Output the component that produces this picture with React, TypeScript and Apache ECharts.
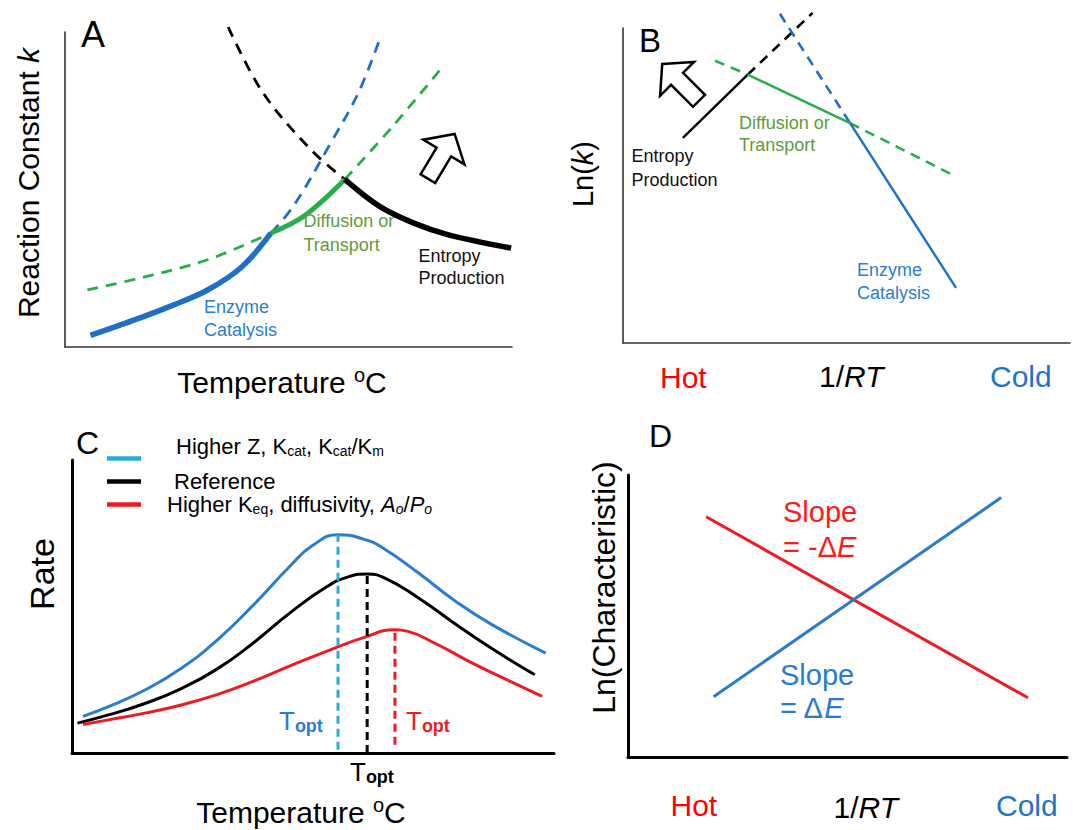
import React, { useEffect, useRef } from "react";
import * as echarts from "echarts";

const FONT = "'Liberation Sans', Arial, Helvetica, sans-serif";

// ---------- Panel A : reaction constant k vs temperature (0-100 schematic units) ----------
const aEnzymeCatalysis = [[5.7, 3.7], [16.5, 9.1], [24.2, 13.3], [31.9, 18.1], [39.6, 25.5], [46.1, 36.2]];
const aEnzymeCatalysisExt = [[46.1, 36.2], [51.1, 44.7], [59.5, 64.9], [65.7, 80.9], [70.3, 97.3]];
const aDiffusionLowExt = [[5.0, 18.1], [16.5, 21.8], [31.9, 27.7], [46.1, 36.2]];
const aDiffusion = [[46.1, 36.2], [53.4, 41.5], [62.6, 53.2]];
const aDiffusionHighExt = [[62.6, 53.2], [73.4, 70.2], [84.1, 88.3]];
const aEntropyExt = [[36.5, 101.6], [44.2, 80.9], [54.9, 62.8], [62.6, 53.2]];
const aEntropy = [[62.6, 53.2], [70.3, 44.7], [77.9, 39.4], [85.6, 35.7], [99.8, 31.4]];

// ---------- Panel B : Ln(k) vs 1/RT ----------
const bEntropy = [[13.4, 65.1], [27.9, 85.2]];
const bEntropyExt = [[27.9, 85.2], [42.4, 104.8]];
const bDiffusionHotExt = [[20.6, 89.6], [27.9, 85.2]];
const bDiffusion = [[27.9, 85.2], [50.8, 69.8]];
const bDiffusionColdExt = [[50.8, 69.8], [73.7, 53.4]];
const bEnzymeExt = [[35.1, 104.5], [50.8, 69.8]];
const bEnzyme = [[50.8, 69.8], [74.5, 17.5]];

// ---------- Panel C : rate vs temperature ----------
const cHigherZ = [[2.27, 12.5], [7.56, 15.8], [15.12, 21.5], [22.68, 28.9], [30.24, 38.7], [37.8, 50.8], [45.36, 64.0], [49.9, 70.8], [55.19, 74.5], [60.48, 73.0], [64.26, 70.2], [71.82, 61.5], [79.38, 52.0], [86.94, 44.0], [98.28, 34.1]];
const cReference = [[1.13, 10.2], [7.56, 13.0], [15.12, 16.9], [22.68, 22.0], [30.24, 28.8], [37.8, 37.8], [45.36, 48.0], [52.92, 56.8], [57.46, 60.2], [61.24, 61.1], [65.02, 59.6], [71.82, 53.0], [79.38, 44.2], [86.94, 35.8], [96.01, 26.7]];
const cHigherKeq = [[2.27, 9.7], [7.56, 11.3], [15.12, 13.6], [22.68, 16.4], [30.24, 20.0], [37.8, 24.6], [45.36, 29.8], [52.92, 34.8], [60.48, 39.4], [67.0, 42.1], [69.5, 41.6], [75.6, 37.2], [83.16, 30.6], [90.72, 24.6], [97.52, 19.3]];
const cToptHigherZ = [[55.19, 1.1], [55.19, 74.5]];
const cToptReference = [[61.24, 0], [61.24, 61.1]];
const cToptHigherKeq = [[67.0, 2.8], [67.0, 42.1]];
const cLegendLabels = ["Higher Z, K{s|cat}, K{s|cat}/K{s|m}", "Reference", "Higher K{s|eq}, diffusivity, {i|A}{is|o}/{i|P}{is|o}"];

// ---------- Panel D : Ln(characteristic) vs 1/RT ----------
const dSlopeNegative = [[17.8, 85.2], [91.1, 21.0]];
const dSlopePositive = [[19.5, 21.4], [85.0, 92.0]];

const BLUE = "#1f6fc5";
const GREEN = "#27ae4a";
const RED = "#ed1c24";
const LIGHTBLUE = "#29abe2";
const TXT_BLUE = "#2a7dd0";
const TXT_GREEN = "#5e9a3a";

function ser(data: number[][], idx: number, color: string, width: number, dashed: boolean, smooth: number | boolean = 0.35, dash: number[] = [11, 8]) {
  return {
    type: "line",
    data,
    xAxisIndex: idx,
    yAxisIndex: idx,
    symbol: "none",
    showSymbol: false,
    smooth,
    clip: false,
    silent: true,
    lineStyle: { color, width, type: dashed ? dash : "solid", cap: "butt" },
  };
}

function axis(idx: number, color: string, width: number) {
  return {
    gridIndex: idx,
    type: "value",
    min: 0,
    max: 100,
    axisLine: { show: true, onZero: false, lineStyle: { color, width } },
    axisTick: { show: false },
    axisLabel: { show: false },
    splitLine: { show: false },
  };
}

function txt(x: number, y: number, text: string, fontSize: number, fill: string, extra: any = {}, rich: any = undefined, rotation = 0) {
  const style: any = {
    text,
    fontSize,
    fontFamily: FONT,
    fill,
    align: extra.align || "left",
    textAlign: extra.align || "left",
    verticalAlign: "middle",
    textVerticalAlign: "middle",
    lineHeight: extra.lineHeight,
  };
  if (extra.fontWeight) style.fontWeight = extra.fontWeight;
  if (rich) style.rich = rich;
  return { type: "text", x, y, rotation, silent: true, z: 10, style };
}

function r(fontSize: number, fill: string, extra: any = {}) {
  return { fontSize, fontFamily: FONT, fill, ...extra };
}

const ARROW = [[0, -26], [24, -5], [8.5, -5], [8.5, 26], [-8.5, 26], [-8.5, -5], [-24, -5]];

export default function App() {
  const ref = useRef<HTMLDivElement>(null);
  useEffect(() => {
    document.body.style.margin = "0";
    const chart = echarts.init(ref.current as HTMLDivElement, null, { renderer: "svg" });

    const legendRichSub = {
      s: r(14, "#000", { lineHeight: 8, verticalAlign: "bottom" }),
      i: r(22, "#000", { fontStyle: "italic", lineHeight: 24 }),
      is: r(14, "#000", { fontStyle: "italic", lineHeight: 8, verticalAlign: "bottom" }),
    };
    const toptRich = (c: string) => ({
      s: r(18, c, { fontWeight: "bold", lineHeight: 10, verticalAlign: "bottom" }),
    });
    const supRich = { o: r(20, "#000", { lineHeight: 23, verticalAlign: "top" }) };
    const italicRich = (size: number, c: string, lh?: number) => ({ i: r(size, c, { fontStyle: "italic", lineHeight: lh }) });

    const option: any = {
      animation: false,
      backgroundColor: "#ffffff",
      grid: [
        { left: 65, top: 32, width: 447, height: 315 },
        { left: 623, top: 28, width: 447, height: 315 },
        { left: 72, top: 460, width: 482, height: 293 },
        { left: 628, top: 475, width: 439, height: 282 },
      ],
      xAxis: [axis(0, "#333", 1.6), axis(1, "#333", 1.6), axis(2, "#000", 3), axis(3, "#000", 3)],
      yAxis: [axis(0, "#333", 1.6), axis(1, "#333", 1.6), axis(2, "#000", 3), axis(3, "#000", 3)],
      series: [
        // A
        ser(aDiffusionLowExt, 0, GREEN, 2.8, true),
        ser(aDiffusionHighExt, 0, GREEN, 2.8, true),
        ser(aEnzymeCatalysisExt, 0, BLUE, 2.8, true),
        ser(aEntropyExt, 0, "#000", 2.8, true),
        ser(aEnzymeCatalysis, 0, BLUE, 5.5, false),
        ser(aDiffusion, 0, GREEN, 5, false),
        ser(aEntropy, 0, "#000", 5.5, false),
        // B
        ser(bEntropyExt, 1, "#000", 2.6, true, false, [10, 7]),
        ser(bDiffusionHotExt, 1, GREEN, 2.6, true, false, [10, 7]),
        ser(bDiffusionColdExt, 1, GREEN, 2.6, true, false, [10, 7]),
        ser(bEnzymeExt, 1, BLUE, 2.6, true, false, [10, 7]),
        ser(bEntropy, 1, "#000", 2.4, false, false),
        ser(bDiffusion, 1, GREEN, 2.4, false, false),
        ser(bEnzyme, 1, BLUE, 2.4, false, false),
        // C
        ser(cHigherZ, 2, "#2b7bd0", 3, false, 0.5),
        ser(cReference, 2, "#000", 3, false, 0.5),
        ser(cHigherKeq, 2, RED, 3, false, 0.5),
        ser(cToptHigherZ, 2, LIGHTBLUE, 3, true, false, [8, 5]),
        ser(cToptReference, 2, "#000", 3, true, false, [8, 5]),
        ser(cToptHigherKeq, 2, RED, 3, true, false, [8, 5]),
        // D
        ser(dSlopeNegative, 3, RED, 3, false, false),
        ser(dSlopePositive, 3, "#2a7bc9", 3, false, false),
      ],
      graphic: [
        // Panel letters
        txt(81, 34, "A", 36, "#000"),
        txt(639, 40, "B", 33, "#000"),
        txt(76, 443, "C", 32, "#000"),
        txt(649, 436, "D", 32, "#000"),
        // Panel A texts
        txt(28, 183, "Reaction Constant {i|k}", 30, "#000", { align: "center" }, italicRich(30, "#000"), Math.PI / 2),
        txt(282, 382, "Temperature {o|o}C", 30, "#000", { align: "center", lineHeight: 34 }, supRich),
        txt(204, 318.5, "Enzyme\nCatalysis", 18, TXT_BLUE, { lineHeight: 23.5 }),
        txt(303.5, 233, "Diffusion or\nTransport", 18, TXT_GREEN, { lineHeight: 23.4 }),
        txt(418.5, 267.4, "Entropy\nProduction", 18, "#111", { lineHeight: 22 }),
        // Arrow A
        {
          type: "polygon", x: 441.3, y: 156.3, rotation: -31 * Math.PI / 180, z: 10, silent: true,
          shape: { points: ARROW }, style: { fill: "#fff", stroke: "#000", lineWidth: 2.5, lineJoin: "miter" },
        },
        // Panel B texts
        txt(583, 174, "Ln({i|k})", 29, "#000", { align: "center" }, italicRich(29, "#000"), Math.PI / 2),
        txt(631.5, 168, "Entropy\nProduction", 18, "#111", { lineHeight: 23.4 }),
        txt(739, 134, "Diffusion or\nTransport", 18, TXT_GREEN, { lineHeight: 22.3 }),
        txt(857, 281.3, "Enzyme\nCatalysis", 18, TXT_BLUE, { lineHeight: 23.3 }),
        txt(660, 377, "Hot", 30, "#ff0000"),
        txt(819, 376.5, "1/{i|RT}", 30, "#000", {}, italicRich(30, "#000")),
        txt(990, 376, "Cold", 30, "#1f73c8"),
        {
          type: "polygon", x: 680.6, y: 82.4, rotation: 45 * Math.PI / 180, z: 10, silent: true,
          shape: { points: ARROW }, style: { fill: "#fff", stroke: "#000", lineWidth: 2.5, lineJoin: "miter" },
        },
        // Panel C legend
        { type: "line", silent: true, shape: { x1: 107, y1: 458.5, x2: 141, y2: 458.5 }, style: { stroke: LIGHTBLUE, lineWidth: 4.5 } },
        { type: "line", silent: true, shape: { x1: 107, y1: 481.5, x2: 141, y2: 481.5 }, style: { stroke: "#000", lineWidth: 4.5 } },
        { type: "line", silent: true, shape: { x1: 107, y1: 504.5, x2: 141, y2: 504.5 }, style: { stroke: RED, lineWidth: 4.5 } },
        txt(176, 446, cLegendLabels[0], 22, "#000", { lineHeight: 24 }, legendRichSub),
        txt(174, 481, cLegendLabels[1], 22, "#000", { lineHeight: 24 }),
        txt(167, 504, cLegendLabels[2], 22, "#000", { lineHeight: 24 }, legendRichSub),
        // Panel C texts
        txt(42, 574, "Rate", 34, "#000", { align: "center" }, undefined, Math.PI / 2),
        txt(279, 721, "T{s|opt}", 26, TXT_BLUE, { lineHeight: 28 }, toptRich(TXT_BLUE)),
        txt(406, 721, "T{s|opt}", 26, RED, { lineHeight: 28 }, toptRich(RED)),
        txt(350, 772, "T{s|opt}", 26, "#000", { lineHeight: 28 }, toptRich("#000")),
        txt(301, 812, "Temperature {o|o}C", 30, "#000", { align: "center", lineHeight: 34 }, supRich),
        // Panel D texts
        txt(603.5, 587.5, "Ln(Characteristic)", 32, "#000", { align: "center" }, undefined, Math.PI / 2),
        txt(783, 529.5, "Slope\n= -Δ{i|E}", 29, "#ff1a1a", { lineHeight: 35 }, italicRich(29, "#ff1a1a", 35)),
        txt(780, 691.5, "Slope\n= Δ{i|E}", 29, "#2a7bc9", { lineHeight: 33 }, italicRich(29, "#2a7bc9", 33)),
        txt(670.5, 805, "Hot", 30, "#ff0000"),
        txt(833.5, 807, "1/{i|RT}", 30, "#000", {}, italicRich(30, "#000")),
        txt(996, 805, "Cold", 30, "#1f73c8"),
      ],
    };
    chart.setOption(option);
    return () => chart.dispose();
  }, []);
  return <div ref={ref} style={{ width: 1073, height: 830, background: "#fff" }} />;
}
